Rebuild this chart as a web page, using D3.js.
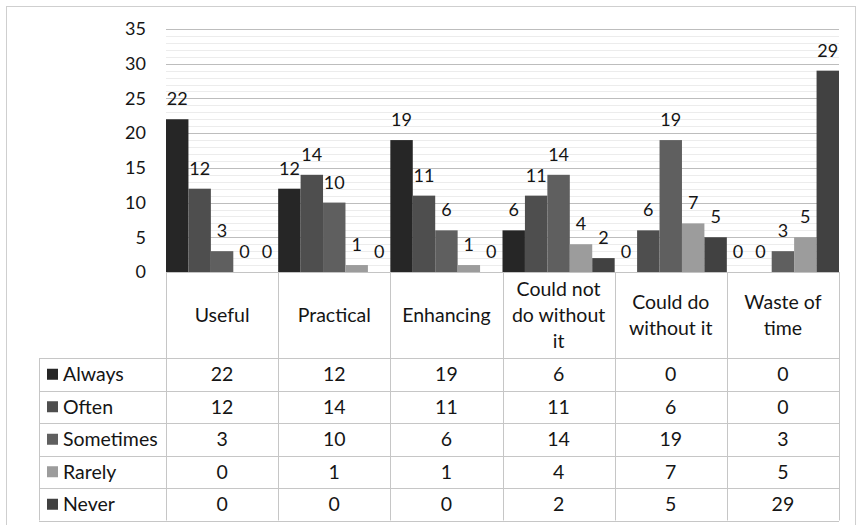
<!DOCTYPE html>
<html>
<head>
<meta charset="utf-8">
<script src="https://cdn.jsdelivr.net/npm/d3@7"></script>
<style>
  html, body { margin: 0; padding: 0; background: #fff; }
  svg { display: block; }
  text { font-family: Lato, "Open Sans", sans-serif; fill: #151515; }
</style>
</head>
<body>
<svg id="chart" width="860" height="525"></svg>
<script>
// Response categories (columns) and frequency series
const categories = ["Useful", "Practical", "Enhancing", "Could not do without it", "Could do without it", "Waste of time"];
const categoryLines = [["Useful"], ["Practical"], ["Enhancing"], ["Could not", "do without", "it"], ["Could do", "without it"], ["Waste of", "time"]];
const seriesNames = ["Always", "Often", "Sometimes", "Rarely", "Never"];
const always    = [22, 12, 19, 6, 0, 0];
const often     = [12, 14, 11, 11, 6, 0];
const sometimes = [3, 10, 6, 14, 19, 3];
const rarely    = [0, 1, 1, 4, 7, 5];
const never     = [0, 0, 0, 2, 5, 29];
const yTicks = [0, 5, 10, 15, 20, 25, 30, 35];

const seriesValues = [always, often, sometimes, rarely, never];
const colors = ["#262626", "#4e4e4e", "#5f5f5f", "#9c9c9c", "#414141"];

const svg = d3.select("#chart");

// outer frame
svg.append("rect")
  .attr("x", 6.5).attr("y", 6.5).attr("width", 849).attr("height", 530)
  .attr("fill", "none").attr("stroke", "#cfcfcf").attr("stroke-width", 1);

const plot = { left: 166, right: 839, top: 29, bottom: 272 };

const y = d3.scaleLinear().domain([0, 35]).range([plot.bottom, plot.top]);
const x = d3.scaleBand().domain(categories).range([plot.left, plot.right]).padding(0);
const xs = d3.scaleBand().domain(seriesNames).range([0, x.bandwidth()]).padding(0);

// minor gridlines (every unit)
const minor = d3.range(1, 35).filter(v => v % 5 !== 0);
svg.append("g").selectAll("line").data(minor).join("line")
  .attr("x1", plot.left).attr("x2", plot.right)
  .attr("y1", d => Math.round(y(d)) + 0.5).attr("y2", d => Math.round(y(d)) + 0.5)
  .attr("stroke", "#ececec").attr("stroke-width", 1);

// major gridlines
svg.append("g").selectAll("line").data(yTicks.filter(v => v > 0)).join("line")
  .attr("x1", plot.left).attr("x2", plot.right)
  .attr("y1", d => Math.round(y(d)) + 0.5).attr("y2", d => Math.round(y(d)) + 0.5)
  .attr("stroke", "#bdbdbd").attr("stroke-width", 1.2);

// y axis tick labels
const yAxis = d3.axisLeft(y).tickValues(yTicks).tickSize(0).tickPadding(20);
const gy = svg.append("g").attr("transform", `translate(${plot.left},0)`).call(yAxis);
gy.select(".domain").remove();
gy.selectAll("text").attr("font-size", 18).attr("font-family", "Lato, sans-serif").attr("fill", "#151515");

// bars
const rows = seriesNames.map((s, i) => ({ name: s, color: colors[i], values: seriesValues[i] }));
const barG = svg.append("g");
rows.forEach(r => {
  barG.append("g").selectAll("rect").data(categories.map((c, j) => ({ c, v: r.values[j] }))).join("rect")
    .attr("x", d => x(d.c) + xs(r.name))
    .attr("width", xs.bandwidth())
    .attr("y", d => y(d.v))
    .attr("height", d => y(0) - y(d.v))
    .attr("fill", r.color);
});

// value labels
rows.forEach(r => {
  barG.append("g").selectAll("text").data(categories.map((c, j) => ({ c, v: r.values[j] }))).join("text")
    .attr("x", d => x(d.c) + xs(r.name) + xs.bandwidth() / 2)
    .attr("y", d => y(d.v) - 14)
    .attr("text-anchor", "middle")
    .attr("font-size", 18)
    .text(d => d.v);
});

// axis baseline
svg.append("line")
  .attr("x1", plot.left).attr("x2", plot.right)
  .attr("y1", plot.bottom + 0.5).attr("y2", plot.bottom + 0.5)
  .attr("stroke", "#c4c4c4");

// data table
const table = { left: 39, headerBottom: 358, rowH: 32.5 };
const gridColor = "#c6c6c6";
const tg = svg.append("g");
const colEdges = categories.map(c => x(c)).concat([plot.right]);
const tableBottom = table.headerBottom + table.rowH * seriesNames.length;

// vertical column lines
colEdges.forEach(cx => {
  tg.append("line")
    .attr("x1", Math.round(cx) + 0.5).attr("x2", Math.round(cx) + 0.5)
    .attr("y1", plot.bottom).attr("y2", tableBottom)
    .attr("stroke", gridColor);
});
tg.append("line")
  .attr("x1", table.left + 0.5).attr("x2", table.left + 0.5)
  .attr("y1", table.headerBottom).attr("y2", tableBottom)
  .attr("stroke", gridColor);

// horizontal row lines
d3.range(seriesNames.length + 1).forEach(i => {
  const yy = Math.round(table.headerBottom + i * table.rowH) + 0.5;
  tg.append("line")
    .attr("x1", table.left).attr("x2", plot.right)
    .attr("y1", yy).attr("y2", yy)
    .attr("stroke", gridColor);
});

// header: category names
const headerMid = (plot.bottom + table.headerBottom) / 2;
const tableFont = 19.5;
categories.forEach((c, j) => {
  const lines = categoryLines[j];
  const lh = 26;
  lines.forEach((ln, k) => {
    tg.append("text")
      .attr("x", x(c) + x.bandwidth() / 2)
      .attr("y", headerMid + (k - (lines.length - 1) / 2) * lh)
      .attr("dy", "0.35em")
      .attr("text-anchor", "middle")
      .attr("font-size", tableFont)
      .text(ln);
  });
});

// rows: legend key, name, values
rows.forEach((r, i) => {
  const cy = table.headerBottom + (i + 0.5) * table.rowH;
  tg.append("rect")
    .attr("x", 47).attr("y", cy - 5.5).attr("width", 11).attr("height", 11)
    .attr("fill", r.color);
  tg.append("text")
    .attr("x", 63).attr("y", cy).attr("dy", "0.35em")
    .attr("font-size", tableFont)
    .text(r.name);
  r.values.forEach((v, j) => {
    tg.append("text")
      .attr("x", x(categories[j]) + x.bandwidth() / 2)
      .attr("y", cy).attr("dy", "0.35em")
      .attr("text-anchor", "middle")
      .attr("font-size", tableFont)
      .text(v);
  });
});
</script>
</body>
</html>
